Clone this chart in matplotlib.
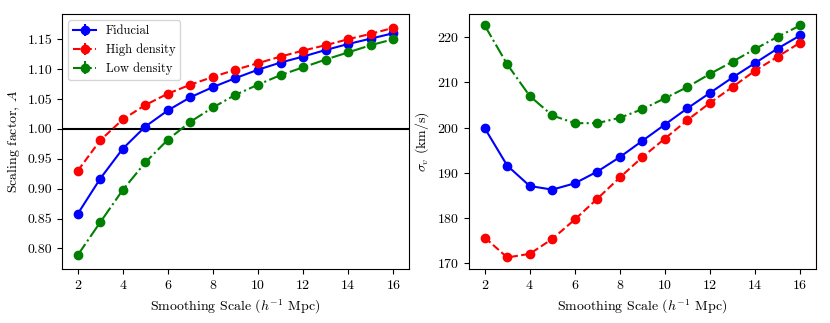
import numpy as np
import matplotlib
matplotlib.use("Agg")
import matplotlib.pyplot as plt

plt.rcParams["font.family"] = ["cmr10", "DejaVu Serif"]
plt.rcParams["mathtext.fontset"] = "cm"
plt.rcParams["axes.formatter.use_mathtext"] = True
plt.rcParams["font.size"] = 10

scales = [2, 3, 4, 5, 6, 7, 8, 9, 10, 11, 12, 13, 14, 15, 16]

# scaling factor A
A_fid = [0.858, 0.917, 0.967, 1.004, 1.031, 1.053, 1.070, 1.085, 1.099, 1.111, 1.121, 1.132, 1.142, 1.151, 1.160]
A_high = [0.930, 0.981, 1.016, 1.040, 1.059, 1.074, 1.087, 1.099, 1.110, 1.121, 1.131, 1.140, 1.150, 1.159, 1.169]
A_low = [0.789, 0.844, 0.898, 0.944, 0.982, 1.012, 1.036, 1.057, 1.074, 1.090, 1.103, 1.116, 1.128, 1.140, 1.150]
A_err = [0.004, 0.004, 0.004, 0.004, 0.004, 0.004, 0.004, 0.004, 0.004, 0.004, 0.004, 0.004, 0.004, 0.004, 0.004]

# sigma_v (km/s)
sv_fid = [199.9, 191.6, 187.1, 186.3, 187.7, 190.3, 193.5, 197.1, 200.7, 204.3, 207.7, 211.1, 214.3, 217.5, 220.4]
sv_high = [175.7, 171.3, 172.1, 175.4, 179.7, 184.3, 189.0, 193.5, 197.6, 201.7, 205.5, 209.0, 212.6, 215.7, 218.8]
sv_low = [222.6, 214.0, 207.0, 202.7, 201.0, 201.0, 202.2, 204.1, 206.5, 209.0, 211.9, 214.6, 217.4, 220.1, 222.6]

fig = plt.figure(figsize=(8.3, 3.23), dpi=100)
ax1 = fig.add_axes([0.0747, 0.167, 0.418, 0.79])
ax2 = fig.add_axes([0.565, 0.167, 0.418, 0.79])

ax1.errorbar(scales, A_fid, yerr=A_err, fmt="o-", color="blue", ms=6, lw=1.5, label="Fiducial")
ax1.errorbar(scales, A_high, yerr=A_err, fmt="o--", color="red", ms=6, lw=1.5, label="High density")
ax1.errorbar(scales, A_low, yerr=A_err, fmt="o-.", color="green", ms=6, lw=1.5, label="Low density")
ax1.axhline(1.0, color="black", lw=1.5)
ax1.set_xlabel(r"Smoothing Scale ($h^{-1}$ Mpc)")
ax1.set_ylabel(r"Scaling factor, $A$")
ax1.set_xticks(range(2, 17, 2))
ax1.set_yticks(np.arange(0.80, 1.151, 0.05))
ax1.yaxis.set_major_formatter(matplotlib.ticker.FormatStrFormatter("%.2f"))
ax1.legend(loc="upper left", fontsize=9, handlelength=1.8)

ax2.plot(scales, sv_fid, "o-", color="blue", ms=6, lw=1.5)
ax2.plot(scales, sv_high, "o--", color="red", ms=6, lw=1.5)
ax2.plot(scales, sv_low, "o-.", color="green", ms=6, lw=1.5)
ax2.set_xlabel(r"Smoothing Scale ($h^{-1}$ Mpc)")
ax2.set_ylabel(r"$\sigma_v$ (km/s)")
ax2.set_xticks(range(2, 17, 2))

fig.savefig("out.png", dpi=100)
